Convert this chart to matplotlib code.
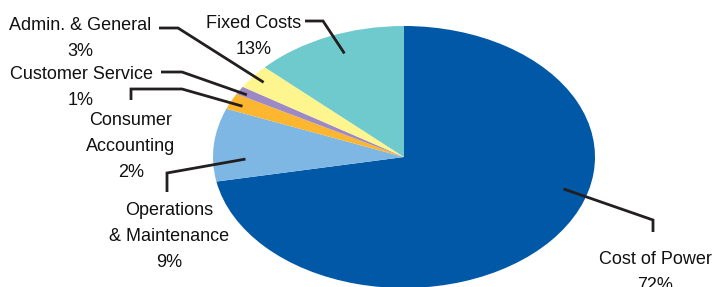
import numpy as np
import matplotlib
matplotlib.use("Agg")
import matplotlib.pyplot as plt
import matplotlib.transforms as mtransforms

# data
labels = ["Cost of Power", "Operations\n& Maintenance", "Consumer\nAccounting",
          "Customer Service", "Admin. & General", "Fixed Costs"]
shares = [72, 9, 2, 1, 3, 13]
colors = ["#0058A7", "#7EB7E4", "#FDB62F", "#9D8AC4", "#FFF58F", "#6FCACE"]

W, H = 726, 287
plt.rcParams["font.family"] = ["Liberation Sans", "DejaVu Sans"]

fig = plt.figure(figsize=(W / 100, H / 100), dpi=100)
ax = fig.add_axes([0, 0, 1, 1])

wedges, _ = ax.pie(shares, colors=colors, startangle=90, counterclock=False,
                   radius=1, wedgeprops=dict(linewidth=0))

# squashed pie: centre at (404,157) px, radii 191 x 131 px
cx, cy, rx, ry = 404, 157, 191, 131
ax.set_xlim(-cx / rx, (W - cx) / rx)
ax.set_ylim((cy - H) / ry, cy / ry)
ax.set_aspect("auto")
ax.axis("off")

# pixel coords, origin top-left
px = mtransforms.Affine2D().scale(1 / W, -1 / H).translate(0, 1) + fig.transFigure

# label layout: first-line baseline centre, leader path (px), anchor (fraction within wedge, radius)
layout = [
    ((655, 264), [(653, 232), (653, 220)], (0.59, 0.87)),
    ((169, 215), [(167, 192), (167, 173)], (0.70, 0.83)),
    ((131, 125), [(131, 100), (131, 89), (182, 89)], (0.58, 0.93)),
    ((81, 79), [(161, 72), (182, 72)], (0.67, 0.95)),
    ((80, 30), [(159, 28), (178, 28)], (0.50, 0.93)),
    ((254, 28), [(305, 21), (323, 21)], (0.46, 0.85)),
]
line_h = 26

for w, lab, val, (tpos, path, (frac, r)) in zip(wedges, labels, shares, layout):
    ang = np.deg2rad(w.theta1 + frac * (w.theta2 - w.theta1))
    disp = ax.transData.transform((r * np.cos(ang), r * np.sin(ang)))
    end = px.inverted().transform(disp)
    pts = np.array(path + [tuple(end)])
    ax.plot(pts[:, 0], pts[:, 1], color="#231F20", lw=2.0, transform=px,
            solid_capstyle="butt", solid_joinstyle="miter", clip_on=False)
    for i, line in enumerate(f"{lab}\n{val}%".split("\n")):
        ax.text(tpos[0], tpos[1] + i * line_h, line, transform=px, ha="center",
                va="baseline", fontsize=13, color="#111111")

fig.savefig("out.png", dpi=100)
